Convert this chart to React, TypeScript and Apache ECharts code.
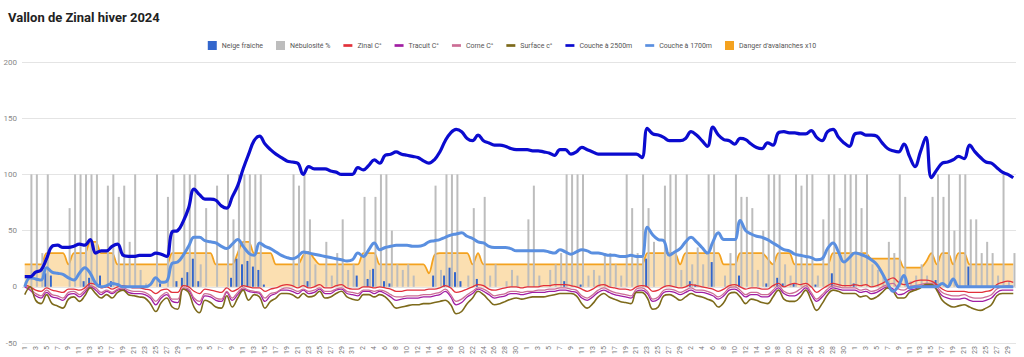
import React, { useEffect, useRef } from "react";
import * as echarts from "echarts";

// Days from 1 Nov 2023 to 30 Apr 2024
const monthLengths = [30, 31, 31, 29, 31, 30];
const categories: string[] = [];
monthLengths.forEach((n) => {
  for (let d = 1; d <= n; d++) categories.push(String(d));
});

const yMin = -50;
const yMax = 200;
const yInterval = 50;

const seriesNames = [
  "Neige fraîche",
  "Nébulosité %",
  "Zinal C°",
  "Tracuit C°",
  "Corne C°",
  "Surface c°",
  "Couche à 2500m",
  "Couche à 1700m",
  "Danger d'avalanches x10",
];

// sparse [dayIndex, value]
const neigeFraiche: [number, number][] = [
  [4, 12], [5, 10], [11, 5], [12, 8], [14, 10], [16, 5], [25, 3], [28, 5], [29, 8], [30, 13],
  [31, 25], [32, 5], [38, 8], [39, 25], [40, 20], [41, 23], [42, 18], [43, 15], [44, 2], [52, 5],
  [61, 10], [63, 7], [64, 16], [66, 5], [67, 3], [75, 10], [77, 10], [78, 17], [79, 13], [80, 5],
  [83, 7], [99, 5], [102, 2], [114, 25], [122, 5], [123, 2], [126, 22], [131, 10], [136, 3],
  [138, 8], [139, 3], [141, 3], [145, 2], [148, 12], [152, 3], [167, 6], [173, 18],
];

const nebulosite: [number, number][] = [
  [1, 100], [2, 100], [3, 30], [4, 100], [8, 70], [9, 100], [10, 100], [11, 100], [12, 100], [13, 100],
  [15, 90], [16, 100], [17, 80], [18, 90], [19, 40], [20, 100], [21, 15], [22, 3], [24, 100], [26, 80],
  [27, 100], [29, 100], [30, 100], [31, 100], [32, 20], [33, 70], [35, 90], [37, 100], [38, 60], [39, 100],
  [40, 100], [41, 100], [42, 100], [43, 100], [49, 100], [50, 90], [51, 100], [52, 60], [53, 20], [55, 40],
  [56, 10], [57, 30], [58, 60], [59, 15], [60, 20], [62, 80], [63, 15], [64, 80], [65, 100], [66, 100],
  [67, 50], [68, 20], [69, 15], [70, 20], [71, 10], [75, 90], [76, 15], [77, 100], [78, 100], [79, 100],
  [81, 10], [82, 70], [84, 80], [85, 10], [86, 20], [88, 5], [89, 15], [90, 10], [92, 60], [93, 90],
  [94, 10], [96, 15], [97, 20], [98, 30], [99, 100], [100, 100], [101, 100], [102, 100], [103, 10], [104, 15],
  [105, 10], [106, 30], [107, 30], [108, 20], [109, 10], [110, 100], [111, 70], [112, 30], [113, 100], [114, 70],
  [115, 40], [117, 90], [118, 100], [119, 100], [120, 15], [121, 100], [122, 20], [123, 35], [124, 20], [125, 100],
  [126, 100], [128, 10], [129, 30], [130, 100], [131, 80], [132, 80], [133, 70], [134, 15], [135, 50], [136, 100],
  [137, 100], [138, 100], [139, 20], [140, 10], [141, 100], [142, 90], [143, 100], [144, 100], [145, 10], [146, 60],
  [147, 100], [148, 100], [149, 70], [150, 100], [151, 100], [152, 100], [153, 70], [154, 100], [155, 20], [156, 15],
  [157, 10], [158, 40], [159, 30], [160, 100], [161, 80], [162, 5], [163, 10], [164, 20], [165, 10], [166, 80],
  [167, 100], [168, 80], [169, 100], [170, 50], [171, 100], [172, 100], [173, 60], [174, 60], [175, 30], [176, 40],
  [177, 30], [178, 10], [179, 100], [180, 5], [181, 30],
];

const zinal = [
  2, 0, -3, -4, -1, -3, -4, -5, -2, -2,
  -3, -1, 3, 2, -1, 0, -2, 0, 1, 0,
  -1, -1, -2, -3, -6, -3, -2, -5, -5, 1,
  0, -4, -6, -2, -3, -4, -5, -1, -4, -2,
  1, 0, -1, -1, -4, -2, -1, 1, 2, 1,
  -1, 1, -1, 0, 2, -1, -1, 1, 2, -1,
  -2, -2, 0, 0, -1, 0, -1, -2, -4, -4,
  -3, -3, -3, -3, -2, -2, -1, 1, -1, -5,
  -4, -2, 0, 2, 1, -2, -3, -2, -1, 0,
  0, -1, 0, 0, 0, 1, 1, 2, 2, 2,
  1, 0, -2, -4, -2, 1, 2, 0, -1, -2,
  -2, -3, 0, 1, 0, -4, -3, 0, 1, 0,
  -1, 0, 2, 1, 0, -1, -2, -4, -2, 1,
  2, 0, -2, -1, -1, -2, -2, 1, 3, 0,
  2, 3, 2, 3, 0, -5, -2, 1, 3, 2,
  1, 1, 2, 1, 2, 0, 1, 3, 6, 8,
  4, 2, 3, 5, 6, 6, 5, 2, -2, -4,
  -4, -4, -4, -5, -5, -5, -4, -3, 2, 4,
  5, 4,
];

const tracuit = [
  0, -3, -8, -10, -5, -9, -10, -12, -7, -6,
  -9, -5, 0, -3, -7, -4, -6, -3, -2, -5,
  -6, -6, -7, -10, -16, -10, -7, -13, -14, -2,
  -3, -12, -16, -8, -9, -12, -13, -5, -12, -7,
  -2, -4, -5, -6, -13, -8, -6, -3, -3, -4,
  -6, -3, -6, -5, -2, -6, -6, -3, -2, -6,
  -7, -8, -4, -4, -6, -4, -6, -9, -12, -11,
  -10, -10, -10, -9, -9, -8, -7, -4, -9, -16,
  -14, -9, -6, -2, -4, -7, -10, -9, -8, -6,
  -6, -7, -6, -5, -5, -5, -4, -4, -3, -3,
  -4, -5, -10, -12, -9, -5, -3, -5, -7, -8,
  -9, -10, -4, -3, -6, -13, -11, -5, -4, -5,
  -7, -5, -3, -5, -5, -6, -8, -11, -8, -3,
  -2, -5, -9, -7, -7, -9, -9, -5, -1, -6,
  -8, -8, -5, -1, -7, -13, -9, -4, -1, -2,
  -3, -3, -3, -5, -4, -6, -5, -2, 0, -2,
  -7, -6, -3, -2, 0, 1, 1, -2, -8, -10,
  -11, -11, -10, -12, -13, -13, -12, -10, -5, -3,
  -3, -3,
];

const corne = [
  1, -2, -6, -8, -3, -7, -8, -10, -5, -4,
  -7, -3, 1, -1, -5, -3, -5, -2, -1, -3,
  -4, -4, -5, -8, -13, -8, -5, -11, -11, -1,
  -2, -10, -13, -6, -7, -10, -11, -4, -10, -5,
  -1, -3, -4, -5, -10, -6, -5, -2, -1, -2,
  -4, -2, -4, -3, -1, -4, -4, -2, -1, -4,
  -5, -6, -3, -3, -4, -3, -4, -7, -9, -9,
  -8, -8, -8, -7, -7, -6, -5, -2, -7, -13,
  -11, -7, -4, -1, -2, -5, -8, -7, -6, -4,
  -4, -5, -4, -4, -3, -3, -2, -2, -1, -1,
  -2, -3, -8, -10, -7, -3, -1, -3, -5, -6,
  -7, -8, -2, -1, -4, -11, -9, -3, -2, -3,
  -5, -3, -1, -3, -3, -4, -6, -9, -6, -1,
  0, -3, -7, -5, -5, -7, -7, -3, 1, -4,
  -6, -5, -2, 1, -5, -11, -7, -2, 1, 0,
  -1, -1, -1, -3, -2, -4, -3, 0, 2, 3,
  -2, -3, 0, 1, 2, 3, 3, 0, -5, -7,
  -8, -8, -7, -9, -10, -10, -9, -7, -2, 0,
  1, 0,
];

const surface = [
  -7, 0, -12, -15, -7, -15, -17, -19, -11, -9,
  -13, -8, -1, -6, -10, -7, -10, -5, -3, -7,
  -8, -9, -10, -15, -22, -14, -10, -18, -20, -2,
  -5, -18, -23, -12, -14, -18, -19, -8, -18, -10,
  -3, -12, -7, -9, -19, -13, -10, -6, -6, -7,
  -10, -6, -9, -8, -4, -10, -9, -6, -4, -9,
  -11, -12, -7, -7, -9, -7, -9, -14, -19, -18,
  -17, -16, -16, -15, -15, -14, -13, -12, -16, -24,
  -22, -15, -10, -4, -7, -12, -16, -15, -13, -11,
  -10, -11, -10, -9, -9, -9, -8, -7, -6, -6,
  -6, -8, -15, -19, -15, -9, -6, -9, -11, -13,
  -14, -15, -5, -5, -10, -20, -18, -8, -7, -9,
  -12, -9, -6, -8, -9, -11, -13, -18, -14, -6,
  -5, -9, -15, -11, -12, -14, -15, -9, -3, -11,
  -13, -13, -9, -3, -12, -21, -15, -7, -3, -4,
  -6, -6, -6, -9, -8, -11, -9, -5, -1, -4,
  -10, -10, -5, -3, -1, 2, 2, -3, -12, -16,
  -18, -17, -16, -18, -20, -21, -19, -16, -8, -6,
  -6, -6,
];

const couche2500 = [
  9, 9, 13, 15, 25, 36, 37, 35, 35, 36,
  38, 37, 42, 30, 32, 32, 36, 38, 28, 27,
  27, 28, 28, 28, 30, 29, 27, 49, 50, 58,
  70, 87, 82, 78, 78, 77, 72, 70, 80, 90,
  105, 118, 130, 134, 127, 122, 118, 115, 112, 111,
  110, 100, 107, 105, 105, 105, 103, 102, 100, 100,
  100, 106, 104, 108, 113, 110, 117, 118, 120, 118,
  117, 116, 115, 112, 110, 113, 120, 130, 137, 140,
  138, 132, 130, 135, 130, 128, 126, 126, 125, 123,
  122, 122, 122, 121, 121, 120, 119, 117, 122, 122,
  118, 120, 124, 122, 120, 118, 118, 118, 118, 118,
  118, 118, 118, 115, 141, 136, 135, 133, 130, 130,
  130, 132, 138, 135, 130, 125, 142, 135, 131, 130,
  127, 132, 131, 127, 124, 123, 128, 126, 137, 138,
  137, 137, 136, 136, 139, 133, 130, 138, 140, 133,
  128, 125, 136, 137, 135, 135, 134, 128, 123, 121,
  120, 127, 116, 107, 120, 133, 97, 104, 110, 111,
  113, 116, 114, 126, 120, 115, 111, 110, 106, 102,
  100, 97,
];

const couche1700 = [
  0, 8, 7, 6, 17, 13, 12, 11, 8, 6,
  12, 17, 12, 3, 0, 1, 3, 2, 0, 0,
  0, 0, 0, 2, 8, 4, 5, 21, 22, 28,
  36, 44, 44, 41, 40, 39, 36, 34, 38, 42,
  36, 30, 28, 39, 36, 34, 31, 28, 26, 25,
  27, 31, 30, 29, 28, 27, 26, 25, 24, 23,
  24, 30, 27, 33, 39, 33, 35, 36, 37, 37,
  37, 36, 36, 37, 40, 41, 42, 44, 46, 47,
  48, 45, 43, 40, 39, 36, 35, 35, 35, 34,
  32, 32, 32, 32, 32, 32, 31, 30, 33, 31,
  29, 31, 33, 32, 30, 30, 29, 28, 28, 27,
  27, 28, 27, 27, 53, 46, 42, 41, 28, 31,
  34, 40, 44, 40, 35, 30, 40, 48, 42, 42,
  42, 59, 50, 47, 45, 44, 42, 39, 36, 33,
  32, 29, 28, 27, 26, 24, 25, 34, 39, 31,
  22, 26, 30, 29, 27, 24, 20, 12, 3, -4,
  1, 10, -1, 0, 0, 0, 0, 0, 3, 0,
  7, 0, 0, 0, 0, 0, 0, 0, 0, 0,
  0, 0,
];

const danger = [
  20, 20, 20, 20, 30, 30, 30, 30, 20, 30,
  30, 30, 40, 40, 30, 30, 30, 20, 20, 20,
  20, 20, 20, 20, 20, 20, 20, 30, 30, 30,
  30, 30, 30, 30, 30, 20, 20, 20, 20, 30,
  40, 40, 30, 30, 30, 30, 20, 20, 20, 20,
  20, 28, 31, 25, 20, 20, 20, 20, 20, 20,
  20, 20, 30, 30, 30, 20, 20, 20, 20, 20,
  20, 20, 20, 20, 12, 28, 30, 30, 30, 30,
  30, 30, 20, 30, 20, 20, 20, 20, 20, 20,
  20, 20, 20, 20, 20, 20, 20, 20, 20, 20,
  20, 20, 20, 20, 20, 20, 20, 20, 20, 20,
  20, 20, 20, 20, 30, 30, 30, 30, 30, 30,
  20, 30, 30, 30, 30, 30, 30, 30, 20, 20,
  20, 30, 30, 30, 30, 30, 25, 20, 30, 30,
  30, 20, 20, 20, 20, 20, 20, 20, 30, 30,
  30, 30, 30, 30, 30, 25, 25, 25, 25, 25,
  25, 17, 17, 17, 17, 22, 30, 20, 30, 30,
  20, 30, 30, 20, 20, 20, 20, 20, 20, 20,
  20, 20,
];

const colors = {
  neige: "#3366cc",
  nebul: "#bdbdbd",
  zinal: "#e2313a",
  tracuit: "#a11ea3",
  corne: "#cc6d95",
  surface: "#7d6a1b",
  c2500: "#0b0bcf",
  c1700: "#5a8fe0",
  danger: "#f4a21f",
};

const lineIcon = "path://M0,0L12,0L12,3.6L0,3.6Z";

export default function App() {
  const ref = useRef<HTMLDivElement>(null);
  useEffect(() => {
    if (!ref.current) return;
    const chart = echarts.init(ref.current, undefined, { renderer: "svg" });
    const font = "Roboto, 'Noto Sans', sans-serif";
    const thin = (name: string, data: number[], color: string, width: number) => ({
      name,
      type: "line",
      data,
      smooth: 0.4,
      symbol: "none",
      showSymbol: false,
      lineStyle: { color, width },
      itemStyle: { color },
      z: 4,
    });
    chart.setOption({
      animation: false,
      textStyle: { fontFamily: font },
      title: {
        text: "Vallon de Zinal hiver 2024",
        left: 8,
        top: 11,
        padding: 0,
        textStyle: { fontSize: 13, fontWeight: "bold", color: "#222", fontFamily: font },
      },
      legend: {
        top: 36,
        left: "center",
        itemWidth: 9,
        itemHeight: 9,
        itemGap: 13,
        symbolKeepAspect: true,
        textStyle: { fontSize: 7, color: "#555", fontFamily: font },
        data: [
          { name: seriesNames[0], icon: "rect" },
          { name: seriesNames[1], icon: "rect" },
          { name: seriesNames[2], icon: lineIcon },
          { name: seriesNames[3], icon: lineIcon },
          { name: seriesNames[4], icon: lineIcon },
          { name: seriesNames[5], icon: lineIcon },
          { name: seriesNames[6], icon: lineIcon },
          { name: seriesNames[7], icon: lineIcon },
          { name: seriesNames[8], icon: "rect", itemStyle: { color: colors.danger } },
        ],
      },
      grid: { left: 22, right: 8, top: 62, bottom: 14, containLabel: false },
      xAxis: {
        type: "category",
        data: categories,
        boundaryGap: true,
        axisLine: { show: false },
        axisTick: { show: false },
        axisLabel: {
          interval: 1,
          rotate: 90,
          fontSize: 7,
          color: "#777",
          margin: 3,
          fontFamily: font,
        },
        splitLine: { show: false },
      },
      yAxis: {
        type: "value",
        min: yMin,
        max: yMax,
        interval: yInterval,
        axisLine: { show: false },
        axisTick: { show: false },
        axisLabel: { fontSize: 8, color: "#888", margin: 5, fontFamily: font },
        splitLine: { lineStyle: { color: "#e4e4e4", width: 1 } },
      },
      series: [
        {
          name: seriesNames[0],
          type: "bar",
          data: neigeFraiche,
          barWidth: 2,
          barGap: "20%",
          itemStyle: { color: colors.neige },
          z: 3,
        },
        {
          name: seriesNames[1],
          type: "bar",
          data: nebulosite,
          barWidth: 2,
          barGap: "20%",
          itemStyle: { color: colors.nebul },
          z: 3,
        },
        thin(seriesNames[2], zinal, colors.zinal, 1.3),
        thin(seriesNames[3], tracuit, colors.tracuit, 1.3),
        thin(seriesNames[4], corne, colors.corne, 1.3),
        thin(seriesNames[5], surface, colors.surface, 1.6),
        {
          name: seriesNames[6],
          type: "line",
          data: couche2500,
          smooth: 0.4,
          symbol: "none",
          showSymbol: false,
          lineStyle: { color: colors.c2500, width: 3.2 },
          itemStyle: { color: colors.c2500 },
          z: 6,
        },
        {
          name: seriesNames[7],
          type: "line",
          data: couche1700,
          smooth: 0.4,
          symbol: "none",
          showSymbol: false,
          lineStyle: { color: colors.c1700, width: 3 },
          itemStyle: { color: colors.c1700 },
          z: 5,
        },
        {
          name: seriesNames[8],
          type: "line",
          data: danger,
          smooth: 0.3,
          symbol: "none",
          showSymbol: false,
          lineStyle: { color: colors.danger, width: 1.8 },
          itemStyle: { color: colors.danger },
          areaStyle: { color: colors.danger, opacity: 0.35 },
          z: 2,
        },
      ],
    });
    return () => chart.dispose();
  }, []);
  return (
    <div
      ref={ref}
      style={{ position: "absolute", left: 0, top: 0, width: 1024, height: 357, background: "#fff" }}
    />
  );
}
